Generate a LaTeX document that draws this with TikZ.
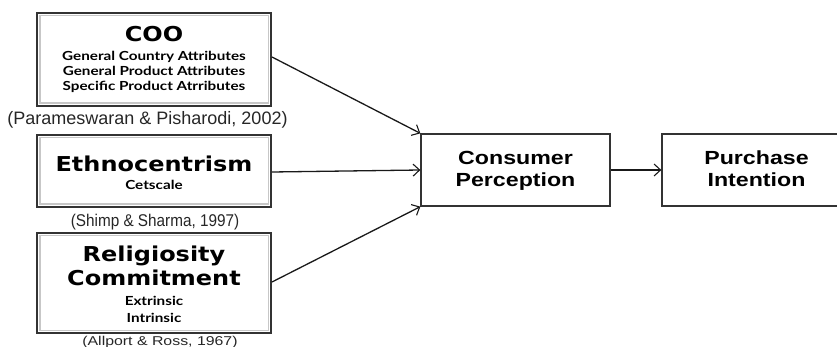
\documentclass[tikz,border=0pt]{standalone}
\usepackage{fontspec}
\usetikzlibrary{arrows.meta}
\setmainfont{Liberation Sans}
\newfontfamily\ttlfont[FakeStretch=1.17]{DejaVu Sans}
\newfontfamily\subfont[FakeStretch=1.22]{Lato}
\newfontfamily\widefont[FakeStretch=1.22]{Liberation Sans}
\newfontfamily\citeBfont[FakeStretch=0.9]{Liberation Sans}
\newfontfamily\citeCfont[FakeStretch=1.24]{Liberation Sans}
\begin{document}
\begin{tikzpicture}[x=1pt,y=-1pt,
  srcbox/.style={draw=black!80,line width=1.6pt,fill=white,minimum width=234pt,inner sep=0pt},
  bevel/.style={draw=black!22,line width=1.6pt},
  tgtbox/.style={draw=black!80,line width=1.3pt,fill=white,minimum width=189pt,minimum height=72pt,inner sep=0pt},
  tgttxt/.style={font=\widefont\fontsize{19}{21}\selectfont\bfseries,anchor=base,inner sep=0pt},
  cite/.style={text=black!85,anchor=base,inner sep=0pt},
  arr/.style={draw=black!90,line width=1.3pt,-{Straight Barb[length=6.5pt,width=12pt,line width=1.1pt]}},
  ttl/.style={font=\ttlfont\fontsize{20.5}{22}\selectfont\bfseries,anchor=base,inner sep=0pt},
  sub/.style={font=\subfont\fontsize{12.5}{14}\selectfont\bfseries,anchor=base,inner sep=0pt}
]
\useasboundingbox (0,0) rectangle (837,347);
% source boxes
\node[srcbox,minimum height=93pt] (coo) at (154,59.5) {};
\draw[bevel] ([shift={(3.5,3.5)}]coo.north west) rectangle ([shift={(-3.5,-3.5)}]coo.south east);
\node[ttl] (cooT) at (154,42) {COO};
\node[sub] (cooS1) at (154,61) {General Country Attributes};
\node[sub] (cooS2) at (154,76) {General Product Attributes};
\node[sub] (cooS3) at (154,91) {Specific Product Atrributes};

\node[srcbox,minimum height=72pt] (eth) at (154,171) {};
\draw[bevel] ([shift={(3.5,3.5)}]eth.north west) rectangle ([shift={(-3.5,-3.5)}]eth.south east);
\node[ttl] (ethT) at (154,172) {Ethnocentrism};
\node[sub] (ethS) at (154,190) {Cetscale};

\node[srcbox,minimum height=100pt] (rel) at (154,283) {};
\draw[bevel] ([shift={(3.5,3.5)}]rel.north west) rectangle ([shift={(-3.5,-3.5)}]rel.south east);
\node[ttl] (relT1) at (154,261) {Religiosity};
\node[ttl] (relT2) at (154,285) {Commitment};
\node[sub] (relS1) at (154,305) {Extrinsic};
\node[sub] (relS2) at (154,322) {Intrinsic};

% citations
\node[cite,font=\fontsize{18}{20}\selectfont] (c1) at (147.5,125) {(Parameswaran \& Pisharodi, 2002)};
\node[cite,font=\citeBfont\fontsize{17}{19}\selectfont] (c2) at (155,227) {(Shimp \& Sharma, 1997)};
\node[cite,font=\citeCfont\fontsize{12.8}{15}\selectfont] (c3) at (160,345) {(Allport \& Ross, 1967)};

% target boxes
\node[tgtbox] (cp) at (515.5,170) {};
\node[tgttxt] (cpT1) at (515.5,165) {Consumer};
\node[tgttxt] (cpT2) at (515.5,187) {Perception};
\node[tgtbox] (pi) at (756.5,170) {};
\node[tgttxt] (piT1) at (756.5,165) {Purchase};
\node[tgttxt] (piT2) at (756.5,187) {Intention};

% connectors
\coordinate (a1) at (272,57);
\coordinate (a2) at (272,172);
\coordinate (a3) at (272,282);
\draw[arr] (a1) -- (cp.north west);
\draw[arr] (a2) -- (cp.west);
\draw[arr] (a3) -- (cp.south west);
\draw[arr] (cp.east) -- (pi.west);
\end{tikzpicture}
\end{document}
